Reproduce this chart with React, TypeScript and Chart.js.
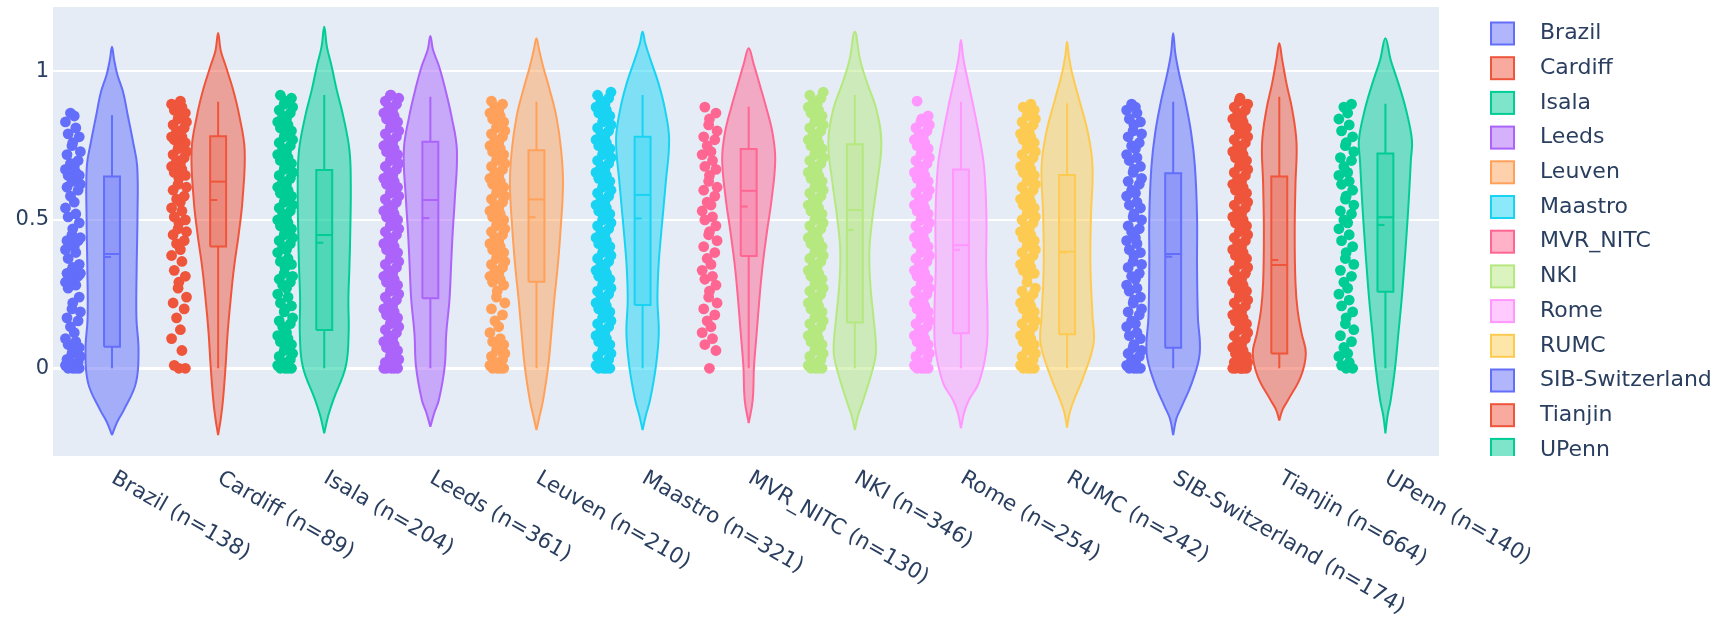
import React, { useEffect, useRef } from 'react';
import { Chart, registerables } from 'chart.js';
Chart.register(...registerables);

// ---------- data ----------
const sites = ['Brazil', 'Cardiff', 'Isala', 'Leeds', 'Leuven', 'Maastro', 'MVR_NITC', 'NKI', 'Rome', 'RUMC', 'SIB-Switzerland', 'Tianjin', 'UPenn'];
const counts = [138, 89, 204, 361, 210, 321, 130, 346, 254, 242, 174, 664, 140];
const colors = ['#636efa', '#EF553B', '#00cc96', '#ab63fa', '#FFA15A', '#19d3f3', '#FF6692', '#B6E880', '#FF97FF', '#FECB52', '#636efa', '#EF553B', '#00cc96'];

const q1 = [0.073, 0.41, 0.129, 0.236, 0.292, 0.213, 0.378, 0.154, 0.118, 0.115, 0.069, 0.05, 0.258];
const q3 = [0.646, 0.782, 0.668, 0.763, 0.735, 0.78, 0.739, 0.755, 0.67, 0.651, 0.657, 0.646, 0.724];
const medians = [0.385, 0.629, 0.449, 0.567, 0.569, 0.584, 0.598, 0.533, 0.415, 0.393, 0.385, 0.348, 0.509];
const means = [0.375, 0.567, 0.423, 0.506, 0.509, 0.505, 0.545, 0.466, 0.399, 0.39, 0.376, 0.365, 0.483];
const whiskerLo = [0, 0, 0, 0, 0, 0, 0, 0, 0, 0, 0, 0, 0];
const whiskerHi = [0.853, 0.898, 0.921, 0.915, 0.898, 0.921, 0.881, 0.921, 0.898, 0.893, 0.898, 0.915, 0.891];

// violin density profiles: [y, relative half-width]
const violinBrazil = [[-0.225, 0], [-0.18, 0.2], [-0.14, 0.45], [-0.05, 0.9], [0.06, 1.0], [0.17, 0.92], [0.34, 0.93], [0.51, 0.96], [0.68, 0.95], [0.76, 0.8], [0.85, 0.6], [0.93, 0.42], [0.99, 0.2], [1.04, 0.08], [1.083, 0]];
const violinCardiff = [[-0.225, 0], [-0.17, 0.1], [-0.11, 0.18], [0.005, 0.28], [0.12, 0.36], [0.23, 0.47], [0.34, 0.6], [0.455, 0.78], [0.567, 0.92], [0.735, 1.0], [0.85, 0.8], [0.94, 0.56], [1.02, 0.28], [1.07, 0.1], [1.13, 0]];
const violinIsala = [[-0.219, 0], [-0.16, 0.15], [-0.107, 0.34], [0.006, 0.81], [0.118, 0.92], [0.23, 0.91], [0.343, 0.95], [0.455, 0.98], [0.62, 1.0], [0.735, 0.95], [0.848, 0.72], [0.938, 0.47], [1.017, 0.28], [1.084, 0.1], [1.151, 0]];
const violinLeeds = [[-0.197, 0], [-0.15, 0.15], [-0.107, 0.32], [0.006, 0.54], [0.118, 0.6], [0.23, 0.72], [0.343, 0.78], [0.455, 0.84], [0.567, 0.92], [0.735, 1.0], [0.848, 0.8], [0.938, 0.57], [1.017, 0.33], [1.073, 0.1], [1.12, 0]];
const violinLeuven = [[-0.208, 0], [-0.16, 0.12], [-0.107, 0.25], [0.006, 0.44], [0.118, 0.56], [0.23, 0.67], [0.343, 0.8], [0.455, 0.9], [0.623, 1.0], [0.735, 0.93], [0.848, 0.75], [0.938, 0.5], [1.017, 0.25], [1.073, 0.1], [1.112, 0]];
const violinMaastro = [[-0.208, 0], [-0.16, 0.12], [-0.107, 0.28], [0.006, 0.5], [0.118, 0.61], [0.23, 0.56], [0.343, 0.6], [0.455, 0.7], [0.623, 0.87], [0.77, 1.0], [0.87, 0.85], [0.96, 0.6], [1.039, 0.3], [1.095, 0.1], [1.134, 0]];
const violinMVR = [[-0.185, 0], [-0.107, 0.15], [0.006, 0.2], [0.118, 0.3], [0.23, 0.4], [0.343, 0.52], [0.455, 0.68], [0.567, 0.86], [0.702, 1.0], [0.792, 0.9], [0.882, 0.65], [0.96, 0.4], [1.028, 0.18], [1.078, 0]];
const violinNKI = [[-0.208, 0], [-0.16, 0.12], [-0.107, 0.32], [0.006, 0.7], [0.062, 0.8], [0.174, 0.7], [0.287, 0.58], [0.399, 0.55], [0.511, 0.67], [0.623, 0.84], [0.758, 1.0], [0.87, 0.82], [0.96, 0.47], [1.039, 0.2], [1.134, 0]];
const violinRome = [[-0.202, 0], [-0.15, 0.12], [-0.107, 0.3], [-0.05, 0.67], [0.062, 0.96], [0.174, 1.0], [0.343, 0.95], [0.511, 0.96], [0.68, 0.87], [0.792, 0.67], [0.904, 0.42], [0.994, 0.2], [1.05, 0.08], [1.106, 0]];
const violinRUMC = [[-0.2, 0], [-0.15, 0.1], [-0.107, 0.26], [-0.028, 0.62], [0.084, 1.0], [0.174, 0.96], [0.343, 0.88], [0.511, 0.9], [0.68, 0.96], [0.792, 0.79], [0.904, 0.46], [0.994, 0.19], [1.05, 0.07], [1.1, 0]];
const violinSIB = [[-0.225, 0], [-0.17, 0.12], [-0.129, 0.32], [-0.05, 0.7], [0.05, 1.0], [0.174, 0.93], [0.343, 0.9], [0.511, 0.9], [0.68, 0.82], [0.792, 0.68], [0.904, 0.45], [0.994, 0.22], [1.061, 0.08], [1.129, 0]];
const violinTianjin = [[-0.176, 0], [-0.14, 0.12], [-0.107, 0.33], [-0.028, 0.81], [0.05, 1.0], [0.118, 0.84], [0.196, 0.69], [0.287, 0.61], [0.455, 0.58], [0.623, 0.61], [0.758, 0.65], [0.87, 0.49], [0.96, 0.27], [1.039, 0.11], [1.095, 0]];
const violinUPenn = [[-0.219, 0], [-0.16, 0.08], [-0.107, 0.2], [0.006, 0.37], [0.118, 0.49], [0.23, 0.61], [0.343, 0.71], [0.455, 0.8], [0.567, 0.88], [0.702, 0.96], [0.769, 1.0], [0.87, 0.78], [0.96, 0.49], [1.039, 0.2], [1.112, 0]];
const violinProfiles = [violinBrazil, violinCardiff, violinIsala, violinLeeds, violinLeuven, violinMaastro, violinMVR, violinNKI, violinRome, violinRUMC, violinSIB, violinTianjin, violinUPenn];

// sample points, estimated, in percent of the y unit
const ptsBrazilPct = [0, 0, 0, 0, 1, 1, 2, 2, 3, 4, 5, 6, 7, 8, 9, 10, 12, 14, 16, 17, 19, 20, 22, 24, 27, 28, 29, 30, 30, 31, 32, 32, 33, 34, 35, 37, 39, 40, 41, 42, 43, 43, 44, 45, 47, 49, 51, 52, 54, 56, 58, 60, 61, 62, 63, 64, 65, 65, 66, 67, 68, 69, 70, 72, 73, 75, 76, 78, 79, 81, 83, 85, 86];
const ptsCardiffPct = [0, 0, 1, 6, 10, 13, 17, 20, 22, 24, 27, 29, 31, 33, 36, 38, 40, 42, 43, 45, 46, 47, 49, 50, 51, 53, 54, 56, 57, 58, 60, 61, 62, 64, 65, 66, 67, 68, 69, 70, 71, 72, 73, 74, 75, 76, 77, 78, 78, 79, 80, 81, 82, 83, 84, 85, 86, 87, 88, 89, 90];
const ptsIsalaPct = [0, 0, 0, 0, 1, 1, 2, 3, 4, 5, 6, 7, 8, 9, 10, 11, 12, 14, 15, 16, 17, 19, 20, 21, 22, 24, 25, 27, 28, 29, 30, 31, 32, 34, 35, 36, 37, 39, 40, 41, 42, 43, 44, 45, 46, 47, 48, 49, 50, 51, 52, 53, 54, 55, 56, 57, 58, 59, 60, 61, 62, 63, 64, 65, 66, 67, 68, 69, 70, 71, 72, 73, 74, 75, 76, 77, 78, 79, 80, 81, 82, 83, 84, 85, 86, 87, 88, 89, 90, 91, 92];
const ptsLeedsPct = [0, 0, 0, 0, 0, 1, 1, 2, 2, 3, 4, 5, 6, 7, 8, 9, 10, 11, 12, 13, 14, 15, 16, 17, 18, 19, 20, 21, 22, 23, 24, 25, 26, 27, 28, 29, 30, 31, 32, 33, 34, 35, 36, 37, 38, 39, 40, 41, 42, 43, 44, 45, 46, 47, 48, 49, 50, 51, 52, 53, 54, 55, 56, 57, 58, 59, 60, 61, 62, 63, 64, 65, 66, 67, 68, 69, 70, 71, 72, 73, 74, 75, 76, 77, 78, 79, 80, 81, 82, 83, 84, 85, 86, 87, 88, 89, 90, 91, 92, 92];
const ptsLeuvenPct = [0, 0, 0, 0, 1, 1, 2, 3, 4, 5, 6, 7, 8, 9, 10, 12, 14, 16, 18, 20, 22, 24, 26, 28, 29, 30, 31, 32, 33, 34, 35, 36, 37, 38, 39, 40, 41, 42, 43, 44, 45, 46, 47, 48, 49, 50, 51, 52, 53, 54, 55, 56, 57, 58, 59, 60, 61, 62, 63, 64, 65, 66, 67, 68, 69, 70, 71, 72, 73, 74, 75, 76, 77, 78, 79, 80, 81, 82, 83, 84, 85, 86, 87, 88, 89, 90];
const ptsMaastroPct = [0, 0, 0, 0, 1, 1, 2, 3, 4, 5, 6, 7, 8, 9, 10, 11, 12, 13, 14, 15, 16, 17, 18, 19, 20, 21, 22, 23, 24, 25, 26, 27, 28, 29, 30, 31, 32, 33, 34, 35, 36, 37, 38, 39, 40, 41, 42, 43, 44, 45, 46, 47, 48, 49, 50, 51, 52, 53, 54, 55, 56, 57, 58, 59, 60, 61, 62, 63, 64, 65, 66, 67, 68, 69, 70, 71, 72, 73, 74, 75, 76, 77, 78, 79, 80, 81, 82, 83, 84, 85, 86, 87, 88, 89, 90, 91, 92, 93];
const ptsMVRPct = [0, 6, 8, 10, 12, 14, 16, 18, 20, 22, 24, 26, 28, 30, 31, 33, 35, 37, 39, 41, 43, 45, 46, 48, 50, 51, 53, 55, 56, 58, 60, 61, 63, 65, 67, 68, 70, 72, 73, 75, 77, 78, 80, 82, 84, 86, 88];
const ptsNKIPct = [0, 0, 0, 0, 1, 1, 2, 3, 4, 5, 6, 7, 8, 9, 10, 11, 12, 13, 14, 15, 16, 17, 18, 19, 20, 21, 22, 23, 24, 25, 26, 27, 28, 29, 30, 31, 32, 33, 34, 35, 36, 37, 38, 39, 40, 41, 42, 43, 44, 45, 46, 47, 48, 49, 50, 51, 52, 53, 54, 55, 56, 57, 58, 59, 60, 61, 62, 63, 64, 65, 66, 67, 68, 69, 70, 71, 72, 73, 74, 75, 76, 77, 78, 79, 80, 81, 82, 83, 84, 85, 86, 87, 88, 89, 90, 91, 92, 93];
const ptsRomePct = [0, 0, 0, 0, 1, 1, 2, 3, 4, 5, 6, 7, 8, 9, 10, 11, 12, 13, 14, 15, 16, 17, 18, 19, 20, 21, 22, 23, 24, 25, 26, 27, 28, 29, 30, 31, 32, 33, 34, 35, 36, 37, 38, 39, 40, 41, 42, 43, 44, 45, 46, 47, 48, 49, 50, 51, 52, 53, 54, 55, 56, 57, 58, 59, 60, 61, 62, 63, 64, 65, 66, 67, 68, 69, 70, 71, 72, 73, 74, 75, 76, 77, 78, 79, 80, 81, 82, 83, 84, 85, 90];
const ptsRUMCPct = [0, 0, 0, 0, 1, 1, 2, 3, 4, 5, 6, 7, 8, 9, 10, 11, 12, 13, 14, 15, 16, 17, 18, 19, 20, 21, 22, 23, 24, 25, 26, 27, 29, 31, 32, 33, 34, 35, 36, 37, 38, 39, 40, 41, 42, 43, 44, 45, 46, 47, 48, 49, 50, 51, 52, 53, 54, 55, 56, 57, 58, 59, 60, 61, 62, 63, 64, 65, 66, 67, 68, 69, 70, 71, 72, 73, 74, 75, 76, 77, 78, 79, 80, 81, 82, 83, 84, 85, 86, 87, 88, 89];
const ptsSIBPct = [0, 0, 0, 0, 1, 2, 3, 4, 5, 6, 7, 8, 10, 11, 12, 14, 15, 16, 18, 19, 20, 22, 23, 24, 26, 27, 28, 30, 31, 32, 34, 35, 36, 38, 39, 40, 42, 43, 44, 46, 47, 48, 50, 51, 52, 54, 55, 56, 58, 59, 60, 62, 63, 64, 66, 67, 68, 70, 71, 72, 74, 75, 76, 78, 79, 80, 82, 83, 84, 86, 87, 88, 89];
const ptsTianjinPct = [0, 0, 0, 0, 0, 0, 1, 1, 2, 2, 3, 3, 4, 5, 6, 7, 8, 9, 10, 11, 12, 13, 14, 15, 16, 17, 18, 19, 20, 21, 22, 23, 24, 25, 26, 27, 28, 29, 30, 31, 32, 33, 34, 35, 36, 37, 38, 39, 40, 41, 42, 43, 44, 45, 46, 47, 48, 49, 50, 51, 52, 53, 54, 55, 56, 57, 58, 59, 60, 61, 62, 63, 64, 65, 66, 67, 68, 69, 70, 71, 72, 73, 74, 75, 76, 77, 78, 79, 80, 81, 82, 83, 84, 85, 86, 87, 88, 89, 90, 91];
const ptsUPennPct = [0, 0, 1, 2, 4, 5, 7, 9, 11, 13, 15, 17, 19, 21, 23, 25, 27, 29, 31, 33, 35, 37, 39, 41, 43, 45, 47, 49, 50, 52, 53, 55, 57, 58, 60, 62, 63, 65, 66, 68, 70, 71, 73, 75, 76, 78, 80, 82, 84, 86, 88, 89];
const pointSetsPct = [ptsBrazilPct, ptsCardiffPct, ptsIsalaPct, ptsLeedsPct, ptsLeuvenPct, ptsMaastroPct, ptsMVRPct, ptsNKIPct, ptsRomePct, ptsRUMCPct, ptsSIBPct, ptsTianjinPct, ptsUPennPct];

const yTicks = [0, 0.5, 1];

// ---------- layout / style constants ----------
const X_MIN = -0.556;
const X_MAX = 12.505;
const Y_MIN = -0.2955;
const Y_MAX = 1.2173;
const VIOLIN_HALF = 0.25;
const BOX_HALF = 0.075;
const POINT_OFFSET = -0.37;
const JITTER_HALF = 0.072;
const JITTER_PATTERN = [0, 0.85, -0.6, 0.4, -0.95, 0.2, -0.3, 0.7, -0.75, 1, -0.1];
const FONT = '"DejaVu Sans", Verdana, sans-serif';
const TEXT_COLOR = '#2a3f5f';

function rgba(hex: string, a: number) {
  const h = hex.replace('#', '');
  const r = parseInt(h.slice(0, 2), 16);
  const g = parseInt(h.slice(2, 4), 16);
  const b = parseInt(h.slice(4, 6), 16);
  return `rgba(${r},${g},${b},${a})`;
}

const bgPlugin = {
  id: 'plotBg',
  beforeDraw(chart: any) {
    const { ctx, chartArea: a } = chart;
    ctx.save();
    ctx.fillStyle = '#ffffff';
    ctx.fillRect(0, 0, chart.width, chart.height);
    ctx.fillStyle = '#E5ECF6';
    ctx.fillRect(a.left, a.top, a.right - a.left, a.bottom - a.top);
    ctx.restore();
  },
};

const xLabelPlugin = {
  id: 'xLabels',
  afterDraw(chart: any) {
    const { ctx, chartArea: a } = chart;
    const xs = chart.scales.x;
    ctx.save();
    ctx.font = `21.5px ${FONT}`;
    ctx.fillStyle = TEXT_COLOR;
    ctx.textAlign = 'left';
    ctx.textBaseline = 'middle';
    sites.forEach((s, i) => {
      const px = xs.getPixelForValue(i);
      ctx.save();
      ctx.translate(px + 1, a.bottom + 21);
      ctx.rotate(Math.PI / 6);
      ctx.fillText(`${s} (n=${counts[i]})`, 0, 0);
      ctx.restore();
    });
    ctx.restore();
  },
};

const legendPlugin = {
  id: 'sideLegend',
  afterDraw(chart: any) {
    const { ctx, chartArea: a } = chart;
    ctx.save();
    ctx.beginPath();
    ctx.rect(a.right + 1, 0, chart.width - a.right, a.bottom);
    ctx.clip();
    ctx.font = `22px ${FONT}`;
    ctx.textAlign = 'left';
    ctx.textBaseline = 'middle';
    sites.forEach((s, i) => {
      const cy = 33.5 + 34.7 * i;
      ctx.fillStyle = rgba(colors[i], 0.5);
      ctx.fillRect(1491, cy - 11, 23, 22);
      ctx.strokeStyle = colors[i];
      ctx.lineWidth = 2;
      ctx.strokeRect(1491, cy - 11, 23, 22);
      ctx.fillStyle = TEXT_COLOR;
      ctx.fillText(s, 1540, cy);
    });
    ctx.restore();
  },
};

export default function App() {
  const ref = useRef<HTMLCanvasElement>(null);
  useEffect(() => {
    if (!ref.current) return;
    const datasets: any[] = [];
    sites.forEach((s, i) => {
      const c = colors[i];
      const prof = violinProfiles[i];
      const right = prof.map(([y, w]) => ({ x: i + w * VIOLIN_HALF, y }));
      const left = prof.slice().reverse().map(([y, w]) => ({ x: i - w * VIOLIN_HALF, y }));
      datasets.push({
        type: 'line', label: s, data: [...right, ...left.slice(1)],
        borderColor: c, borderWidth: 2, backgroundColor: rgba(c, 0.5),
        fill: 'shape', tension: 0.4, pointRadius: 0, order: 10,
      });
      datasets.push({
        type: 'line', label: s + ' whisker',
        data: [{ x: i, y: whiskerLo[i] }, { x: i, y: q1[i] }, { x: i, y: null }, { x: i, y: q3[i] }, { x: i, y: whiskerHi[i] }],
        borderColor: c, borderWidth: 2, pointRadius: 0, fill: false, spanGaps: false, order: 9,
      });
      datasets.push({
        type: 'line', label: s + ' box',
        data: [{ x: i - BOX_HALF, y: q1[i] }, { x: i + BOX_HALF, y: q1[i] }, { x: i + BOX_HALF, y: q3[i] }, { x: i - BOX_HALF, y: q3[i] }, { x: i - BOX_HALF, y: q1[i] }],
        borderColor: c, borderWidth: 2, backgroundColor: rgba(c, 0.3), fill: 'shape', tension: 0, pointRadius: 0, order: 8,
      });
      datasets.push({
        type: 'line', label: s + ' median',
        data: [{ x: i - BOX_HALF, y: medians[i] }, { x: i + BOX_HALF, y: medians[i] }],
        borderColor: c, borderWidth: 2, pointRadius: 0, fill: false, order: 7,
      });
      datasets.push({
        type: 'line', label: s + ' mean',
        data: [{ x: i - BOX_HALF, y: means[i] }, { x: i + BOX_HALF, y: means[i] }],
        borderColor: c, borderWidth: 2, borderDash: [7, 9], pointRadius: 0, fill: false, order: 7,
      });
      datasets.push({
        type: 'scatter', label: s + ' points',
        data: pointSetsPct[i].map((p, k) => ({ x: i + POINT_OFFSET + JITTER_PATTERN[k % JITTER_PATTERN.length] * JITTER_HALF, y: p / 100 })),
        backgroundColor: c, borderWidth: 0, pointRadius: 5.4, order: 6,
      });
    });

    const chart = new Chart(ref.current, {
      type: 'line',
      data: { datasets },
      options: {
        animation: false,
        responsive: false,
        devicePixelRatio: 1,
        layout: { padding: { top: 7, right: 282, bottom: 164, left: 0 } },
        plugins: { legend: { display: false }, tooltip: { enabled: false } },
        scales: {
          x: { type: 'linear', min: X_MIN, max: X_MAX, display: false },
          y: {
            type: 'linear', min: Y_MIN, max: Y_MAX,
            afterBuildTicks: (scale: any) => { scale.ticks = yTicks.map((v) => ({ value: v })); },
            afterFit: (scale: any) => { scale.width = 53; scale.paddingTop = 0; scale.paddingBottom = 0; },
            ticks: { font: { family: FONT, size: 21 }, color: TEXT_COLOR, padding: 4, callback: (v: any) => String(v) },
            grid: { color: '#ffffff', lineWidth: (ctx: any) => (ctx.tick && ctx.tick.value === 0 ? 3 : 2), drawTicks: false },
            border: { display: false },
          },
        },
      } as any,
      plugins: [bgPlugin, xLabelPlugin, legendPlugin],
    });
    return () => chart.destroy();
  }, []);

  return (
    <div style={{ position: 'absolute', left: 0, top: 0, width: 1721, height: 620, background: '#fff' }}>
      <canvas ref={ref} width={1721} height={620} style={{ display: 'block' }} />
    </div>
  );
}
